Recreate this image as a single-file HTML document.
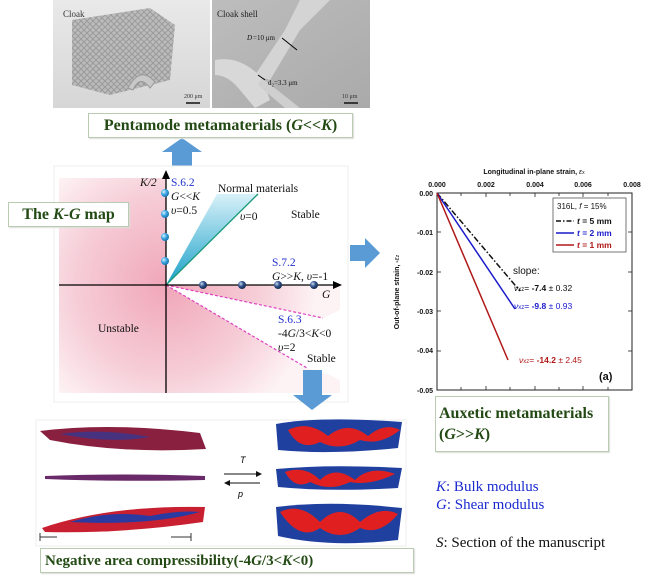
<!DOCTYPE html>
<html><head><meta charset="utf-8"><style>
body{margin:0;background:#fff;width:650px;height:581px;overflow:hidden;position:relative;font-family:"Liberation Serif",serif}
.abs{position:absolute}
.box{position:absolute;border:1px solid #b9cbb0;background:#fff;color:#234a14;font-weight:bold;font-family:"Liberation Serif",serif;box-shadow:1px 1px 1px #ddd}
</style></head><body>
<svg class="abs" style="left:0;top:0" width="650" height="581" viewBox="0 0 650 581" font-family="Liberation Serif, serif">
<defs>
<linearGradient id="ph1" x1="0" y1="0" x2="0" y2="1"><stop offset="0" stop-color="#e9e9e9"/><stop offset="1" stop-color="#d6d6d6"/></linearGradient>
<linearGradient id="ph2" x1="0" y1="0" x2="1" y2="1"><stop offset="0" stop-color="#bdbdbd"/><stop offset="1" stop-color="#aaaaaa"/></linearGradient>
<pattern id="lat" width="6" height="6" patternUnits="userSpaceOnUse"><rect width="6" height="6" fill="#b5b5b5"/><path d="M0 0L6 6M6 0L0 6" stroke="#8e8e8e" stroke-width="1"/></pattern>
<radialGradient id="pk" cx="166" cy="285" r="150" gradientUnits="userSpaceOnUse"><stop offset="0" stop-color="#f0a6b8"/><stop offset="0.6" stop-color="#f6cdd7"/><stop offset="1" stop-color="#fdf2f4"/></radialGradient>
<linearGradient id="wedge" x1="0" y1="1" x2="0" y2="0"><stop offset="0" stop-color="#1aa0c8"/><stop offset="1" stop-color="#d8f1f9"/></linearGradient>
<radialGradient id="ball" cx="0.35" cy="0.35" r="0.7"><stop offset="0" stop-color="#d8f2ff"/><stop offset="0.5" stop-color="#3aa6e0"/><stop offset="1" stop-color="#1a6fb0"/></radialGradient>
<radialGradient id="ball2" cx="0.35" cy="0.35" r="0.7"><stop offset="0" stop-color="#c8d8f0"/><stop offset="0.5" stop-color="#2d4f8a"/><stop offset="1" stop-color="#142848"/></radialGradient>
</defs>
<!-- photos -->
<rect x="53" y="0" width="157" height="108" fill="url(#ph1)"/>
<polygon points="72,20 150,8 175,25 170,80 110,95 72,85" fill="url(#lat)" opacity="0.85"/>
<path d="M128 88 Q140 65 155 82 L150 88 Q140 74 133 90Z" fill="#c8c8c8" stroke="#999"/>
<text x="63" y="17" font-size="9" fill="#333">Cloak</text>
<text x="184" y="98" font-size="6" fill="#333">200 μm</text>
<line x1="186" y1="103" x2="200" y2="103" stroke="#111" stroke-width="1.5"/>
<rect x="212" y="0" width="158" height="108" fill="url(#ph2)"/>
<path d="M300 0 L330 0 L300 30 L270 80 L255 75 L285 30Z" fill="#d4d4d4"/>
<path d="M215 60 Q240 55 262 78 L270 100 L255 108 L240 90 Q228 75 215 75Z" fill="#d8d8d8"/>
<path d="M262 78 L300 108 L285 108 L258 85Z" fill="#cfcfcf"/>
<text x="217" y="17" font-size="9" fill="#222">Cloak shell</text>
<text x="247" y="40" font-size="7" fill="#111" font-style="italic">D</text><text x="253" y="40" font-size="7" fill="#111">=10 μm</text>
<line x1="282" y1="38" x2="297" y2="50" stroke="#000"/>
<text x="268" y="85" font-size="7" fill="#111">d₂=3.3 μm</text>
<line x1="258" y1="75" x2="265" y2="80" stroke="#000"/>
<text x="342" y="98" font-size="6" fill="#333">10 μm</text>
<line x1="344" y1="103" x2="358" y2="103" stroke="#111" stroke-width="1.5"/>
<!-- up arrow -->
<polygon points="172,167 192,167 192,152 202,152 182,138 162,152 172,152" fill="#5b9bd5"/>
<!-- KG panel -->
<rect x="54" y="166" width="294" height="236" fill="#fff" stroke="#eee"/>
<rect x="59" y="178" width="107" height="215" fill="url(#pk)"/>
<polygon points="166,285 340,285 340,310 323,318" fill="url(#pk)"/>
<polygon points="166,285 307,368 330,375 340,380 340,393 166,393" fill="url(#pk)"/>
<polygon points="166,285 217,194 258,194" fill="url(#wedge)"/>
<line x1="166" y1="285" x2="258" y2="194" stroke="#1a9a78" stroke-width="1.3"/>
<line x1="166" y1="285" x2="323" y2="318" stroke="#e040c0" stroke-width="1.2" stroke-dasharray="3,2"/>
<line x1="166" y1="285" x2="307" y2="368" stroke="#e040c0" stroke-width="1.2" stroke-dasharray="3,2"/>
<line x1="59" y1="285" x2="335" y2="285" stroke="#000" stroke-width="1.3"/>
<polygon points="342,285 333,281 333,289" fill="#000"/>
<line x1="166" y1="393" x2="166" y2="178" stroke="#000" stroke-width="1.3"/>
<polygon points="166,170 162,179 170,179" fill="#000"/>
<g fill="url(#ball)"><circle cx="165" cy="193" r="4"/><circle cx="165" cy="214" r="4"/><circle cx="165" cy="237" r="4"/><circle cx="165" cy="261" r="4"/></g>
<g fill="url(#ball2)"><circle cx="203" cy="285" r="4"/><circle cx="242" cy="285" r="4"/><circle cx="278" cy="285" r="4"/><circle cx="314" cy="285" r="4"/></g>
<g font-size="11.5" fill="#111">
<text x="140" y="186" font-style="italic">K/2</text>
<text x="171" y="186" fill="#2233cc">S.6.2</text>
<text x="171" y="200"><tspan font-style="italic">G</tspan>&lt;&lt;<tspan font-style="italic">K</tspan></text>
<text x="171" y="214"><tspan font-style="italic">υ</tspan>=0.5</text>
<text x="218" y="192">Normal materials</text>
<text x="240" y="220"><tspan font-style="italic">υ</tspan>=0</text>
<text x="291" y="218">Stable</text>
<text x="272" y="266" fill="#2233cc">S.7.2</text>
<text x="272" y="280"><tspan font-style="italic">G</tspan>&gt;&gt;<tspan font-style="italic">K</tspan>, <tspan font-style="italic">υ</tspan>=-1</text>
<text x="322" y="298" font-style="italic">G</text>
<text x="278" y="323" fill="#2233cc">S.6.3</text>
<text x="278" y="337">-4<tspan font-style="italic">G</tspan>/3&lt;<tspan font-style="italic">K</tspan>&lt;0</text>
<text x="278" y="351"><tspan font-style="italic">υ</tspan>=2</text>
<text x="307" y="362">Stable</text>
<text x="98" y="332">Unstable</text>
</g>
<!-- down arrow -->
<polygon points="303,370 322,370 322,395 332,395 312,410 293,395 303,395" fill="#5b9bd5"/>
<!-- right arrow -->
<polygon points="350,245 365,245 365,238 380,253 365,268 365,261 350,261" fill="#5b9bd5"/>
<!-- right plot -->
<g font-family="Liberation Sans, sans-serif" font-weight="bold" font-size="7" fill="#111">
<text x="534" y="174" text-anchor="middle">Longitudinal in-plane strain, <tspan font-style="italic" font-weight="normal">ε</tspan><tspan font-size="5" font-weight="normal">x</tspan></text>
<text x="437" y="187" text-anchor="middle">0.000</text><text x="486" y="187" text-anchor="middle">0.002</text><text x="535" y="187" text-anchor="middle">0.004</text><text x="583" y="187" text-anchor="middle">0.006</text><text x="632" y="187" text-anchor="middle">0.008</text>
<text x="433" y="196" text-anchor="end">0.00</text><text x="433" y="235" text-anchor="end">-0.01</text><text x="433" y="275" text-anchor="end">-0.02</text><text x="433" y="314" text-anchor="end">-0.03</text><text x="433" y="353" text-anchor="end">-0.04</text><text x="433" y="393" text-anchor="end">-0.05</text>
<text transform="translate(399,292) rotate(-90)" text-anchor="middle">Out-of-plane strain, -<tspan font-style="italic" font-weight="normal">ε</tspan><tspan font-size="5" font-weight="normal">z</tspan></text>
</g>
<rect x="437" y="193" width="195" height="197" fill="none" stroke="#222" stroke-width="1"/>
<g stroke="#222" stroke-width="0.8">
<line x1="461" y1="193" x2="461" y2="196"/><line x1="486" y1="193" x2="486" y2="197"/><line x1="510" y1="193" x2="510" y2="196"/><line x1="535" y1="193" x2="535" y2="197"/><line x1="559" y1="193" x2="559" y2="196"/><line x1="583" y1="193" x2="583" y2="197"/><line x1="608" y1="193" x2="608" y2="196"/>
<line x1="461" y1="390" x2="461" y2="387"/><line x1="486" y1="390" x2="486" y2="386"/><line x1="510" y1="390" x2="510" y2="387"/><line x1="535" y1="390" x2="535" y2="386"/><line x1="559" y1="390" x2="559" y2="387"/><line x1="583" y1="390" x2="583" y2="386"/><line x1="608" y1="390" x2="608" y2="387"/>
<line x1="437" y1="232" x2="441" y2="232"/><line x1="437" y1="272" x2="441" y2="272"/><line x1="437" y1="311" x2="441" y2="311"/><line x1="437" y1="351" x2="441" y2="351"/>
<line x1="632" y1="232" x2="628" y2="232"/><line x1="632" y1="272" x2="628" y2="272"/><line x1="632" y1="311" x2="628" y2="311"/><line x1="632" y1="351" x2="628" y2="351"/>
</g>
<line x1="437" y1="193" x2="520" y2="291" stroke="#111" stroke-width="1.5" stroke-dasharray="6,2,1.5,2"/>
<line x1="437" y1="193" x2="515" y2="309" stroke="#1a1acc" stroke-width="1.5"/>
<line x1="437" y1="193" x2="508" y2="360" stroke="#b01818" stroke-width="1.5"/>
<rect x="553" y="198" width="73" height="54" fill="#fff" stroke="#555" stroke-width="0.8"/>
<g font-family="Liberation Sans, sans-serif" font-size="8.5">
<text x="557" y="209" fill="#111" font-size="8">316L, <tspan font-style="italic">f</tspan> = 15%</text>
<line x1="556" y1="221" x2="574" y2="221" stroke="#111" stroke-width="1.4" stroke-dasharray="5,2,1.5,2"/>
<text x="577" y="224" fill="#111" font-weight="bold"><tspan font-style="italic">t</tspan> = 5 mm</text>
<line x1="556" y1="233" x2="574" y2="233" stroke="#1a1acc" stroke-width="1.4"/>
<text x="577" y="236" fill="#1a1acc" font-weight="bold"><tspan font-style="italic">t</tspan> = 2 mm</text>
<line x1="556" y1="245" x2="574" y2="245" stroke="#b01818" stroke-width="1.4"/>
<text x="577" y="248" fill="#b01818" font-weight="bold"><tspan font-style="italic">t</tspan> = 1 mm</text>
<text x="513" y="274" font-size="10" fill="#111">slope:</text>
<text x="514" y="291" fill="#111"><tspan font-style="italic">ν</tspan><tspan font-size="6">xz</tspan>= <tspan font-weight="bold">-7.4</tspan> ± 0.32</text>
<text x="514" y="309" fill="#1a1acc"><tspan font-style="italic">ν</tspan><tspan font-size="6">xz</tspan>= <tspan font-weight="bold">-9.8</tspan> ± 0.93</text>
<text x="519" y="363" fill="#b01818"><tspan font-style="italic">ν</tspan><tspan font-size="6">xz</tspan>= <tspan font-weight="bold">-14.2</tspan> ± 2.45</text>
<text x="599" y="380" font-size="11" font-weight="bold" fill="#111">(a)</text>
</g>
<!-- bottom ribbons -->
<rect x="36" y="420" width="370" height="126" fill="#fff" stroke="#eee"/>
<g>
<path d="M40 431 Q110 422 200 433 L206 449 Q120 454 50 440Z" fill="#8a2040"/>
<path d="M60 434 Q100 428 150 437 Q110 444 60 434Z" fill="#2a3a9a" opacity="0.7"/>
<path d="M45 476 Q120 473 205 476 L205 480 Q120 482 45 479Z" fill="#6a2a6a"/>
<path d="M42 528 Q110 505 205 507 L203 522 Q120 534 45 532Z" fill="#c82030"/>
<path d="M70 522 Q110 510 150 516 Q180 510 200 512 Q150 526 70 522Z" fill="#2a3aa0"/>
<line x1="40" y1="537" x2="57" y2="537" stroke="#333"/><line x1="40" y1="533" x2="40" y2="541" stroke="#333"/>
<line x1="171" y1="537" x2="191" y2="537" stroke="#333"/><line x1="191" y1="533" x2="191" y2="541" stroke="#333"/>
<text x="240" y="463" font-family="Liberation Sans, sans-serif" font-size="9" font-style="italic">T</text>
<line x1="224" y1="474" x2="260" y2="474" stroke="#111"/><polygon points="262,474 256,471 256,477" fill="#111"/>
<line x1="226" y1="483" x2="260" y2="483" stroke="#111"/><polygon points="224,483 230,480 230,486" fill="#111"/>
<text x="238" y="497" font-family="Liberation Sans, sans-serif" font-size="9" font-style="italic">p</text>
<g>
<path d="M276 424 Q320 416 402 422 L398 448 Q330 455 278 450Z" fill="#2040a0"/>
<path d="M288 430 Q308 420 328 436 Q348 420 368 436 Q385 422 400 430 Q380 446 360 440 Q340 452 320 442 Q300 452 288 430Z" fill="#e02020"/>
<path d="M276 469 Q330 464 402 468 L398 488 Q330 492 278 487Z" fill="#2040a0"/>
<path d="M285 472 Q305 465 320 480 Q335 465 355 480 Q370 465 395 474 Q370 486 350 482 Q330 492 310 482 Q295 490 285 472Z" fill="#e02020"/>
<path d="M276 507 Q330 500 402 508 L398 540 Q330 548 278 536Z" fill="#2040a0"/>
<path d="M280 512 Q300 502 320 522 Q340 502 360 522 Q380 505 398 514 Q380 536 360 528 Q340 542 320 528 Q300 542 280 512Z" fill="#e02020"/>
</g>
</g>
<g font-size="15" fill="#1a2ad0">
<text x="436" y="491"><tspan font-style="italic">K</tspan>: Bulk modulus</text>
<text x="436" y="509"><tspan font-style="italic">G</tspan>: Shear modulus</text>
<text x="436" y="547" fill="#111"><tspan font-style="italic">S</tspan>: Section of the manuscript</text>
</g>
</svg>
<div class="box" style="left:88px;top:113px;width:263px;height:23px;font-size:16px;line-height:23px;text-align:center">Pentamode metamaterials (<i>G</i>&lt;&lt;<i>K</i>)</div>
<div class="box" style="left:8px;top:202px;width:119px;height:23px;font-size:16px;line-height:23px;text-align:center">The <i>K</i>-<i>G</i> map</div>
<div class="box" style="left:435px;top:396px;width:174px;height:56px;font-size:16px;line-height:21px;padding:6px 0 0 3px;box-sizing:border-box">Auxetic metamaterials<br>(<i>G</i>&gt;&gt;<i>K</i>)</div>
<div class="box" style="left:40px;top:548px;width:374px;height:25px;font-size:15px;line-height:25px;padding-left:4px;box-sizing:border-box">Negative area compressibility(-4<i>G</i>/3&lt;<i>K</i>&lt;0)</div>
</body></html>
